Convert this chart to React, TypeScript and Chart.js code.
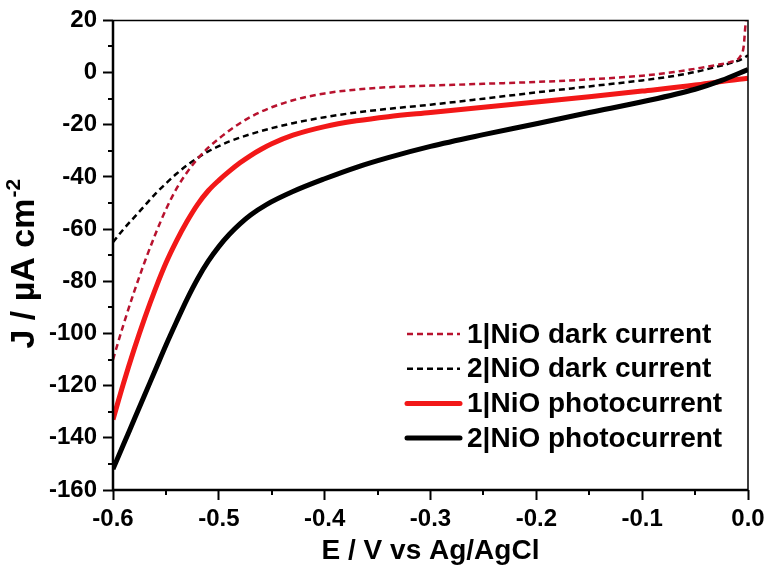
import React, { useEffect, useRef } from 'react';
import { Chart, registerables } from 'chart.js';

Chart.register(...registerables);

// ---- data ----
const seriesLabels = [
  '1|NiO dark current',
  '2|NiO dark current',
  '1|NiO photocurrent',
  '2|NiO photocurrent',
];

const dark1V = [-0.6, -0.59, -0.58, -0.57, -0.56, -0.55, -0.54, -0.53, -0.52, -0.51, -0.5, -0.49, -0.48, -0.47, -0.46, -0.45, -0.43, -0.4, -0.37, -0.34, -0.3, -0.25, -0.2, -0.15, -0.1, -0.07, -0.045, -0.03, -0.017, -0.0073, -0.0041, -0.0025, -0.0016];
const dark1J = [-110, -96.5, -84, -72.5, -62, -52.5, -44.5, -38.2, -33, -28.8, -25.3, -22.2, -19.4, -17, -15, -13.3, -10.6, -8.0, -6.5, -5.6, -5.0, -4.3, -3.6, -2.6, -1.2, 0.2, 1.8, 2.9, 4.0, 6.2, 10, 17.7, 21];

const dark2V = [-0.6, -0.59, -0.58, -0.57, -0.56, -0.55, -0.54, -0.53, -0.52, -0.51, -0.5, -0.49, -0.47, -0.45, -0.43, -0.4, -0.37, -0.34, -0.3, -0.25, -0.2, -0.15, -0.1, -0.075, -0.05, -0.03, -0.015, -0.005, 0];
const dark2J = [-65, -60, -55.5, -51, -46.5, -42.5, -38.8, -35.5, -32.7, -30.2, -28.2, -26.4, -23.6, -21.3, -19.4, -17.1, -15.3, -13.9, -12.3, -10.0, -7.6, -5.3, -3.0, -1.6, 0.2, 2.2, 3.8, 5.3, 6.6];

const photo1V = [-0.6, -0.59, -0.58, -0.57, -0.56, -0.55, -0.54, -0.53, -0.52, -0.51, -0.5, -0.49, -0.48, -0.47, -0.46, -0.45, -0.43, -0.4, -0.37, -0.34, -0.3, -0.25, -0.2, -0.15, -0.1, -0.05, -0.025, 0];
const photo1J = [-133, -119, -106, -94, -83, -73, -64.5, -57, -50.5, -45.3, -41.3, -37.8, -34.6, -31.8, -29.4, -27.3, -24.0, -20.7, -18.5, -16.9, -15.3, -13.3, -11.3, -9.3, -7.1, -4.8, -3.4, -2.2];

const photo2V = [-0.6, -0.59, -0.58, -0.57, -0.56, -0.55, -0.54, -0.53, -0.52, -0.51, -0.5, -0.49, -0.48, -0.47, -0.455, -0.43, -0.4, -0.37, -0.34, -0.3, -0.25, -0.2, -0.15, -0.1, -0.05, -0.025, 0];
const photo2J = [-152, -142.5, -133, -123.5, -114, -104.5, -95.5, -86.8, -79, -72.3, -66.7, -62, -58, -54.6, -50.6, -45.6, -40.7, -36.3, -32.6, -28.3, -23.8, -19.6, -15.3, -11.2, -6.4, -3.0, 1.2];

const xMin = -0.6;
const xMax = 0;
const xStep = 0.1;
const yMin = -160;
const yMax = 20;
const yStep = 20;

const xTitle = 'E / V vs Ag/AgCl';
const yTitleMain = 'J / µA cm';
const yTitleSup = '-2';

const xy = (vs: number[], js: number[]) => vs.map((v, i) => ({ x: v, y: js[i] }));

const FONT = "'Liberation Sans', Arial, sans-serif";

const frameAndMinorTicks = {
  id: 'frameAndMinorTicks',
  afterDraw(chart: any) {
    const { ctx, chartArea, scales } = chart;
    const { left, right, top, bottom } = chartArea;
    const xs = scales.x;
    const ys = scales.y;
    ctx.save();
    ctx.strokeStyle = '#000';
    ctx.lineCap = 'butt';
    ctx.lineWidth = 2;
    for (let v = xMin + xStep / 2; v < xMax; v += xStep) {
      const px = Math.round(xs.getPixelForValue(v));
      ctx.beginPath();
      ctx.moveTo(px, bottom);
      ctx.lineTo(px, bottom + 5);
      ctx.stroke();
    }
    for (let v = yMin + yStep / 2; v < yMax; v += yStep) {
      const py = Math.round(ys.getPixelForValue(v));
      ctx.beginPath();
      ctx.moveTo(left, py);
      ctx.lineTo(left - 5, py);
      ctx.stroke();
    }
    ctx.lineWidth = 1.5;
    ctx.beginPath();
    ctx.moveTo(left, top);
    ctx.lineTo(right, top);
    ctx.lineTo(right, bottom);
    ctx.stroke();
    ctx.lineWidth = 2.5;
    ctx.beginPath();
    ctx.moveTo(left, top);
    ctx.lineTo(left, bottom);
    ctx.lineTo(right, bottom);
    ctx.stroke();

    // y-axis title with superscript
    const size = 34;
    const supSize = 21;
    const cy = (top + bottom) / 2 + 9;
    ctx.fillStyle = '#000';
    ctx.translate(34, cy);
    ctx.rotate(-Math.PI / 2);
    ctx.textBaseline = 'alphabetic';
    ctx.textAlign = 'left';
    ctx.font = `bold ${size}px ${FONT}`;
    const w1 = ctx.measureText(yTitleMain).width;
    ctx.font = `bold ${supSize}px ${FONT}`;
    const w2 = ctx.measureText(yTitleSup).width;
    const x0 = -(w1 + w2) / 2;
    ctx.font = `bold ${size}px ${FONT}`;
    ctx.fillText(yTitleMain, x0, 0);
    ctx.font = `bold ${supSize}px ${FONT}`;
    ctx.fillText(yTitleSup, x0 + w1 + 1, -size * 0.42);
    ctx.restore();
  },
};

const insideLegend = {
  id: 'insideLegend',
  afterDraw(chart: any) {
    const { ctx, chartArea } = chart;
    const x0 = chartArea.right - 341;
    const y0 = chartArea.bottom - 156;
    const rowH = 34.7;
    ctx.save();
    ctx.font = `bold 28px ${FONT}`;
    ctx.textBaseline = 'middle';
    ctx.textAlign = 'left';
    ctx.fillStyle = '#000';
    [0, 1, 2, 3].forEach((di, i) => {
      const ds = chart.data.datasets[di];
      const y = y0 + i * rowH;
      ctx.strokeStyle = ds.borderColor;
      ctx.lineWidth = ds.borderWidth;
      ctx.setLineDash(ds.borderDash || []);
      ctx.lineCap = ds.borderDash ? 'butt' : 'round';
      ctx.beginPath();
      ctx.moveTo(x0, y);
      ctx.lineTo(x0 + 53, y);
      ctx.stroke();
      ctx.setLineDash([]);
      ctx.fillText(ds.label, x0 + 60, y + 1);
    });
    ctx.restore();
  },
};

export default function App() {
  const ref = useRef<HTMLCanvasElement | null>(null);

  useEffect(() => {
    if (!ref.current) return;
    const common = { pointRadius: 0, cubicInterpolationMode: 'monotone' };
    const chart = new Chart(ref.current, {
      type: 'line',
      data: {
        datasets: [
          {
            ...common,
            label: seriesLabels[0],
            data: xy(dark1V, dark1J),
            borderColor: '#b8122e',
            borderWidth: 2.5,
            borderDash: [6, 4],
            order: 0,
          },
          {
            ...common,
            label: seriesLabels[1],
            data: xy(dark2V, dark2J),
            borderColor: '#000000',
            borderWidth: 2.5,
            borderDash: [6, 4],
            order: 1,
          },
          {
            ...common,
            label: seriesLabels[2],
            data: xy(photo1V, photo1J),
            borderColor: '#f21818',
            borderWidth: 5,
            order: 3,
          },
          {
            ...common,
            label: seriesLabels[3],
            data: xy(photo2V, photo2J),
            borderColor: '#000000',
            borderWidth: 5,
            order: 2,
          },
        ],
      },
      options: {
        animation: false,
        responsive: false,
        events: [],
        layout: { padding: { top: 17, right: 23, left: 0, bottom: 0 } },
        plugins: {
          legend: { display: false },
          tooltip: { enabled: false },
        },
        scales: {
          x: {
            type: 'linear',
            position: 'bottom',
            min: xMin,
            max: xMax,
            ticks: {
              stepSize: xStep,
              color: '#000',
              font: { family: FONT, size: 24, weight: 'bold' },
              padding: 5,
              maxRotation: 0,
              callback: (v: any) => Number(v).toFixed(1),
            },
            grid: {
              display: true,
              drawOnChartArea: false,
              drawTicks: true,
              tickLength: 10,
              tickWidth: 2,
              tickColor: '#000',
              color: '#000',
            },
            border: { display: false },
            title: {
              display: true,
              text: xTitle,
              color: '#000',
              font: { family: FONT, size: 28, weight: 'bold' },
              padding: { top: 0, bottom: 6 },
            },
            afterFit: (s: any) => {
              s.height = 84;
            },
          },
          y: {
            type: 'linear',
            position: 'left',
            min: yMin,
            max: yMax,
            ticks: {
              stepSize: yStep,
              color: '#000',
              font: { family: FONT, size: 24, weight: 'bold' },
              padding: 6,
            },
            grid: {
              display: true,
              drawOnChartArea: false,
              drawTicks: true,
              tickLength: 10,
              tickWidth: 2,
              tickColor: '#000',
              color: '#000',
            },
            border: { display: false },
            title: { display: false },
            afterFit: (s: any) => {
              s.width = 113;
            },
          },
        },
      } as any,
      plugins: [frameAndMinorTicks, insideLegend],
    });
    return () => chart.destroy();
  }, []);

  return (
    <div style={{ position: 'absolute', left: 0, top: 0, width: 771, height: 574, background: '#fff' }}>
      <canvas ref={ref} width={771} height={574} />
    </div>
  );
}
